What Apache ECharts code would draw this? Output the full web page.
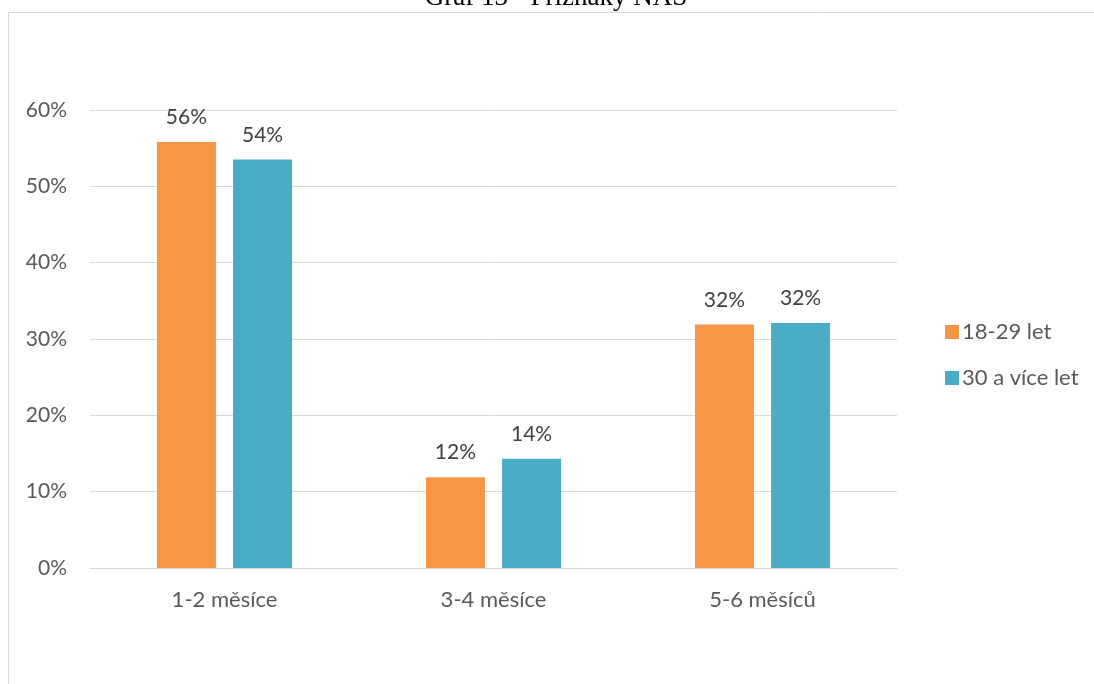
<!DOCTYPE html>
<html>
<head>
<meta charset="utf-8">
<script src="https://cdn.jsdelivr.net/npm/echarts@6/dist/echarts.min.js"></script>
<style>
  html, body { margin: 0; padding: 0; background: #fff; }
  #chart { width: 1094px; height: 684px; }
</style>
</head>
<body>
<div id="chart"></div>
<script>
// Chart data
const categories = ['1-2 měsíce', '3-4 měsíce', '5-6 měsíců'];
const seriesNames = ['18-29 let', '30 a více let'];
const youngValues = [55.8, 11.9, 31.9];
const olderValues = [53.5, 14.3, 32.1];
const yTicks = [0, 10, 20, 30, 40, 50, 60];
const titleText = 'Graf 13 - Příznaky NAS';

const FONT = 'Lato, "Open Sans", sans-serif';
const TEXT = '#595959';
const colors = ['#f79646', '#4bacc6'];

const chart = echarts.init(document.getElementById('chart'), null, { renderer: 'canvas' });

const label = {
  show: true,
  position: 'top',
  distance: 14,
  color: '#404040',
  fontFamily: FONT,
  fontSize: 21,
  formatter: p => Math.round(p.value) + '%'
};

chart.setOption({
  animation: false,
  color: colors,
  graphic: [
    {
      type: 'rect',
      shape: { x: 8.5, y: 12.5, width: 1100, height: 700 },
      style: { fill: 'none', stroke: '#d9d9d9', lineWidth: 1 },
      silent: true
    },
    {
      type: 'text',
      style: {
        x: 556, y: 11,
        text: titleText,
        align: 'center',
        verticalAlign: 'bottom',
        font: '27px "Liberation Serif", "Times New Roman", serif',
        fill: '#000'
      },
      silent: true
    }
  ],
  legend: {
    orient: 'vertical',
    left: 940,
    top: 316,
    itemWidth: 14,
    itemHeight: 14,
    itemGap: 24,
    icon: 'rect',
    textStyle: { color: TEXT, fontFamily: FONT, fontSize: 22, padding: [0, 0, 0, -2] },
    data: seriesNames
  },
  grid: { left: 90, right: 197, top: 110, bottom: 116, containLabel: false },
  xAxis: {
    type: 'category',
    data: categories,
    axisLine: { lineStyle: { color: '#d9d9d9' } },
    axisTick: { show: false },
    axisLabel: { color: TEXT, fontFamily: FONT, fontSize: 22, margin: 21 }
  },
  yAxis: {
    type: 'value',
    min: 0,
    max: yTicks[yTicks.length - 1],
    interval: 10,
    axisLine: { show: false },
    axisTick: { show: false },
    splitLine: { lineStyle: { color: '#d9d9d9' } },
    axisLabel: { color: TEXT, fontFamily: FONT, fontSize: 21, margin: 23, formatter: v => v + '%' }
  },
  series: [
    { name: seriesNames[0], type: 'bar', data: youngValues, barWidth: 59, barGap: '29%', label },
    { name: seriesNames[1], type: 'bar', data: olderValues, barWidth: 59, barGap: '29%', label }
  ]
});
</script>
</body>
</html>
